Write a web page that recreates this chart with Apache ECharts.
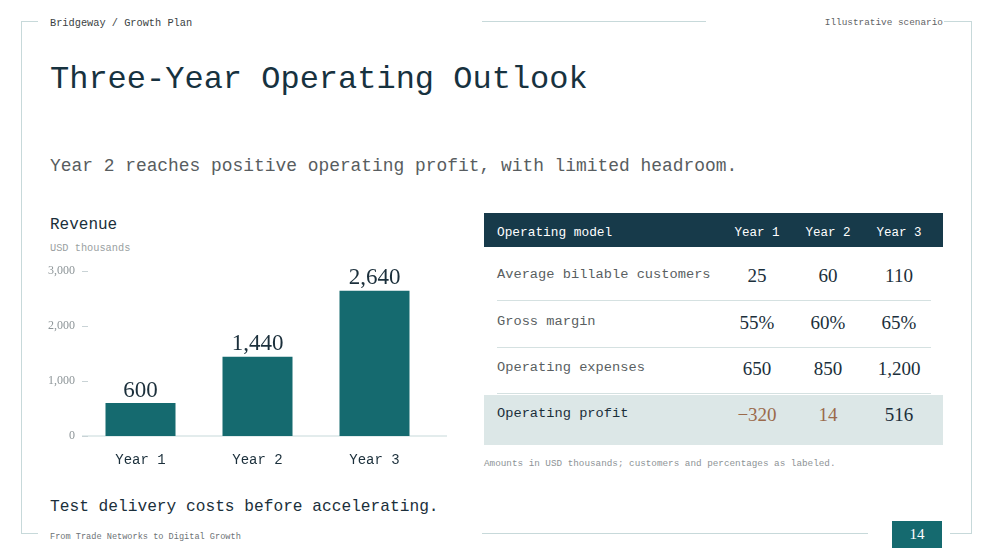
<!DOCTYPE html>
<html>
<head>
<meta charset="utf-8">
<title>Three-Year Operating Outlook</title>
<script src="https://cdn.jsdelivr.net/npm/echarts@6.0.0/dist/echarts.min.js"></script>
<style>
  html, body { margin: 0; padding: 0; background: #ffffff; }
  #slide { position: relative; width: 993px; height: 558px; overflow: hidden; font-family: "Liberation Mono", "DejaVu Sans Mono", monospace; }
  .t { position: absolute; white-space: nowrap; transform: translateY(-50%); line-height: 1; margin-top: 1.5px; }
  .ln { position: absolute; background: #c7d9da; }
  #revenueChart { position: absolute; left: 0; top: 250px; width: 470px; height: 230px; }
  .num { font-family: "Liberation Serif", serif; }
</style>
</head>
<body>
<div id="slide">
  <!-- frame -->
  <div class="ln" style="left:21px;top:21px;width:17px;height:1px"></div>
  <div class="ln" style="left:482px;top:21px;width:224px;height:1px"></div>
  <div class="ln" style="left:944px;top:21px;width:27px;height:1px"></div>
  <div class="ln" style="left:21px;top:21px;width:1px;height:513px"></div>
  <div class="ln" style="left:971px;top:21px;width:1px;height:513px"></div>
  <div class="ln" style="left:21px;top:533px;width:17px;height:1px"></div>
  <div class="ln" style="left:482px;top:533px;width:386px;height:1px"></div>
  <div class="ln" style="left:950px;top:533px;width:21px;height:1px"></div>

  <div class="t" style="left:50px;top:21px;font-size:10.3px;color:#3b3f42">Bridgeway / Growth Plan</div>
  <div class="t" style="right:50px;top:21px;font-size:9.4px;color:#5f6366">Illustrative scenario</div>
  <div class="t" style="left:50px;top:78px;font-size:32px;color:#17323f">Three-Year Operating Outlook</div>
  <div class="t" style="left:50px;top:165px;font-size:17.9px;color:#585d60">Year 2 reaches positive operating profit, with limited headroom.</div>

  <div class="t" style="left:50px;top:223px;font-size:16px;color:#1b2f3b">Revenue</div>
  <div class="t" style="left:50px;top:246px;font-size:10.3px;color:#9a9fa2">USD thousands</div>
  <div id="revenueChart"></div>

  <div id="table"></div>
  <div class="t" style="left:484px;top:462px;font-size:9.3px;color:#8d9396">Amounts in USD thousands; customers and percentages as labeled.</div>

  <div class="t" style="left:50px;top:505px;font-size:16.2px;color:#1b2f3b">Test delivery costs before accelerating.</div>
  <div class="t" style="left:50px;top:535px;font-size:8.6px;color:#6d7275">From Trade Networks to Digital Growth</div>
  <div style="position:absolute;left:892px;top:521px;width:50px;height:27px;background:#156a6f;color:#ffffff;font-family:'Liberation Serif',serif;font-size:15px;line-height:27px;text-align:center">14</div>
</div>

<script>
// revenue chart data
const years = ["Year 1", "Year 2", "Year 3"];
const revenue = [600, 1440, 2640];
const revenueTicks = [0, 1000, 2000, 3000];

// operating model table
const rowLabels = ["Average billable customers", "Gross margin", "Operating expenses", "Operating profit"];
const customers = [25, 60, 110];
const grossMargin = [55, 60, 65];
const operatingExpenses = [650, 850, 1200];
const operatingProfit = [-320, 14, 516];

const fmt = (v) => v.toLocaleString("en-US");

function revenueChart() {
  let chartDom = document.getElementById("revenueChart");
  let myChart = echarts.init(chartDom, null, { renderer: "canvas" });
  let option = {
    animation: false,
    grid: { left: 82, width: 351, top: 21, height: 165 },
    xAxis: {
      type: "category",
      data: years,
      axisLine: { show: false },
      axisTick: { show: false },
      axisLabel: {
        margin: 17,
        fontFamily: "Liberation Mono",
        fontSize: 14,
        color: "#1b2f3b",
      },
    },
    yAxis: {
      type: "value",
      min: revenueTicks[0],
      max: revenueTicks[revenueTicks.length - 1],
      interval: 1000,
      axisLine: { show: false },
      axisTick: { show: true, inside: true, length: 6, lineStyle: { color: "#c9d3d6" } },
      splitLine: { show: false },
      axisLabel: {
        margin: 7,
        fontFamily: "Liberation Serif",
        fontSize: 12,
        color: "#8d9598",
        formatter: (v) => fmt(v),
      },
    },
    series: [
      {
        type: "bar",
        data: revenue,
        barWidth: 70,
        itemStyle: { color: "#156a6f" },
        label: {
          show: true,
          position: "top",
          distance: 1,
          fontFamily: "Liberation Serif",
          fontSize: 23,
          color: "#1b2f3b",
          formatter: (p) => fmt(p.value),
        },
      },
    ],
  };
  option && myChart.setOption(option);

  // baseline runs a little past the last band
  const y0 = myChart.convertToPixel({ yAxisIndex: 0 }, 0);
  myChart.setOption({
    graphic: [
      {
        type: "line",
        shape: { x1: 82, y1: y0, x2: 447, y2: y0 },
        style: { stroke: "#c7d9da", lineWidth: 1 },
        z: 0,
      },
    ],
  });
}

function operatingTable() {
  const box = document.getElementById("table");
  const colX = [757, 828, 899];
  let html = "";
  // header
  html += '<div style="position:absolute;left:484px;top:213px;width:459px;height:34px;background:#173a4a"></div>';
  html += '<div class="t" style="left:497px;top:231px;font-size:12.8px;color:#ffffff">Operating model</div>';
  years.forEach((y, i) => {
    html += '<div class="t" style="left:' + colX[i] + 'px;top:231px;font-size:12.5px;color:#ffffff;transform:translate(-50%,-50%)">' + y + "</div>";
  });
  // profit band
  html += '<div style="position:absolute;left:484px;top:395px;width:459px;height:50px;background:#dce7e7"></div>';
  // separators
  [300, 347, 393].forEach((y) => {
    html += '<div class="ln" style="left:497px;top:' + y + 'px;width:434px;height:1px;background:#d5e1e1"></div>';
  });
  const rows = [
    customers.map(fmt),
    grossMargin.map((v) => v + "%"),
    operatingExpenses.map(fmt),
    operatingProfit.map((v) => (v < 0 ? "\u2212" + fmt(-v) : fmt(v))),
  ];
  const rowY = [273, 320, 366, 412];
  rows.forEach((vals, r) => {
    const last = r === rows.length - 1;
    html += '<div class="t" style="left:497px;top:' + rowY[r] + "px;font-size:13.7px;color:" + (last ? "#1b2f3b" : "#5a5f62") + '">' + rowLabels[r] + "</div>";
    vals.forEach((v, i) => {
      let color = "#1b2f3b";
      if (last && operatingProfit[i] < 100) color = "#9a6a4b";
      html += '<div class="t num" style="left:' + colX[i] + "px;top:" + rowY[r] + "px;font-size:19px;color:" + color + ';transform:translate(-50%,-50%)">' + v + "</div>";
    });
  });
  box.innerHTML = html;
}

operatingTable();
revenueChart();
</script>
</body>
</html>
